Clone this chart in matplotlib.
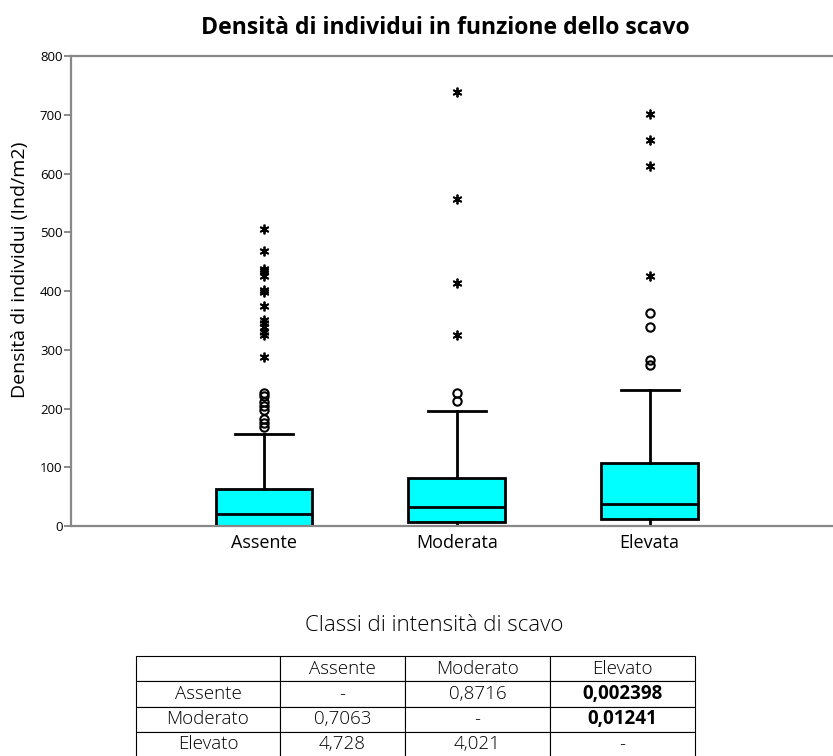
import matplotlib
matplotlib.use("Agg")
import matplotlib.pyplot as plt

plt.rcParams["font.family"] = ["Open Sans", "DejaVu Sans"]

# --- data ---
categories = ["Assente", "Moderata", "Elevata"]
q1 = [0, 6, 12]
median = [20, 32, 37]
q3 = [63, 82, 107]
whisk_lo = [0, 0, 0]
whisk_hi = [157, 195, 232]

# mild outliers (circles)
mild = [
    [169, 176, 183, 197, 204, 211, 221, 226],
    [213, 226],
    [274, 283, 338, 363],
]
# extreme outliers (asterisks)
extreme = [
    [287, 325, 330, 338, 346, 351, 375, 398, 401, 426, 434, 438, 468, 506],
    [325, 413, 556, 738],
    [426, 613, 657, 701],
]

table_cols = ["", "Assente", "Moderato", "Elevato"]
table_rows = [
    ["Assente", "-", "0,8716", "0,002398"],
    ["Moderato", "0,7063", "-", "0,01241"],
    ["Elevato", "4,728", "4,021", "-"],
]
bold_cells = [(1, 3), (2, 3)]

# --- figure ---
fig = plt.figure(figsize=(8.33, 7.56), dpi=100)
ax = fig.add_axes([0.085, 0.3042, 0.915, 0.6217])

stats = []
for i, name in enumerate(categories):
    stats.append(dict(label=name, q1=q1[i], med=median[i], q3=q3[i],
                      whislo=whisk_lo[i], whishi=whisk_hi[i], fliers=mild[i]))

pos = [1, 2, 3]
ax.bxp(stats, positions=pos, widths=0.5, patch_artist=True, capwidths=0.3,
       boxprops=dict(facecolor="#00ffff", edgecolor="black", linewidth=2),
       medianprops=dict(color="black", linewidth=2),
       whiskerprops=dict(color="black", linewidth=2),
       capprops=dict(color="black", linewidth=2),
       flierprops=dict(marker="o", markerfacecolor="none", markeredgecolor="black",
                       markersize=6, markeredgewidth=1.5))

for p, vals in zip(pos, extreme):
    ax.plot([p] * len(vals), vals, linestyle="none", marker=(6, 2, 0),
            color="black", markersize=7, markeredgewidth=1.3)

ax.set_xlim(0, 3.95)
ax.set_ylim(0, 800)
ax.set_yticks(range(0, 801, 100))
ax.tick_params(axis="y", labelsize=9.5, length=5, width=1.2, color="#777777", pad=1)
ax.tick_params(axis="x", labelsize=13, length=0, pad=6)
for s in ["left", "bottom", "top"]:
    ax.spines[s].set_color("#888888")
    ax.spines[s].set_linewidth(1.6)
ax.spines["right"].set_visible(False)

ax.set_ylabel("Densità di individui (Ind/m2)", fontsize=14)
ax.yaxis.set_label_coords(-0.055, 0.545)
fig.text(0.535, 0.963, "Densità di individui in funzione dello scavo",
         ha="center", va="center", fontsize=16.6, fontweight="bold")

fig.text(0.521, 0.173, "Classi di intensità di scavo", ha="center", va="center",
         fontsize=16, fontweight="light")

# --- table ---
tax = fig.add_axes([136 / 833, -1 / 756, 559 / 833, 101 / 756])
tax.set_axis_off()
tbl = tax.table(cellText=table_rows, colLabels=table_cols, cellLoc="center",
                bbox=[0, 0, 1, 1], colWidths=[144, 125, 145, 145])
tbl.auto_set_font_size(False)
for (r, c), cell in tbl.get_celld().items():
    cell.set_edgecolor("black")
    cell.set_linewidth(0.8)
    cell.get_text().set_fontsize(13.5)
    if (r, c) in bold_cells:
        cell.get_text().set_fontweight("bold")
    else:
        cell.get_text().set_fontweight("light")

fig.savefig("out.png", dpi=100)
